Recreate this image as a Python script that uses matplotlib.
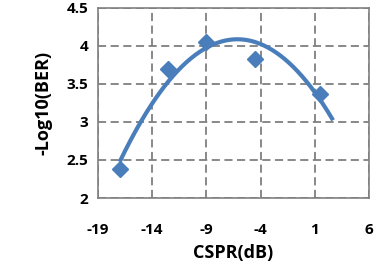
import numpy as np
import matplotlib
matplotlib.use("Agg")
import matplotlib.pyplot as plt

# data
cspr = [-17, -12.5, -9, -4.5, 1.5]
neg_log_ber = [2.38, 3.70, 4.05, 3.83, 3.37]
x_ticks = [-19, -14, -9, -4, 1, 6]
y_ticks = [2, 2.5, 3, 3.5, 4, 4.5]

blue = "#4A7EBB"
plt.rcParams['font.family'] = ['Open Sans', 'DejaVu Sans']

fig = plt.figure(figsize=(3.88, 2.75), dpi=100)
ax = fig.add_axes([0.2526, 0.28, 0.698, 0.691])

# 2nd order trendline, extended a little forward like Excel
coef = np.polyfit(cspr, neg_log_ber, 2)
xs = np.linspace(min(cspr), max(cspr) + 1.2, 200)
ax.plot(xs, np.polyval(coef, xs), color=blue, lw=3, solid_capstyle='butt', zorder=3)
ax.plot(cspr, neg_log_ber, 'D', color=blue, ms=8, mec=blue, zorder=4)

ax.set_xlim(-19, 6)
ax.set_ylim(2, 4.5)
ax.set_xticks(x_ticks)
ax.set_yticks(y_ticks)
ax.set_xticklabels([str(v) for v in x_ticks], fontsize=11, fontweight='bold')
ax.set_yticklabels([str(v) for v in y_ticks], fontsize=11, fontweight='bold')
ax.tick_params(length=0, pad=7)
ax.tick_params(axis='x', pad=18)
ax.grid(True, color='#7f7f7f', ls=(0, (4.5, 2.5)), lw=1.3)
ax.set_axisbelow(True)
for s in ax.spines.values():
    s.set_color('#808080')
    s.set_linewidth(1.2)

ax.set_xlabel("CSPR(dB)", fontsize=13, fontweight='bold', labelpad=5)
ax.set_ylabel("-Log10(BER)", fontsize=13, fontweight='bold', labelpad=10)

fig.savefig("out.png", dpi=100)
